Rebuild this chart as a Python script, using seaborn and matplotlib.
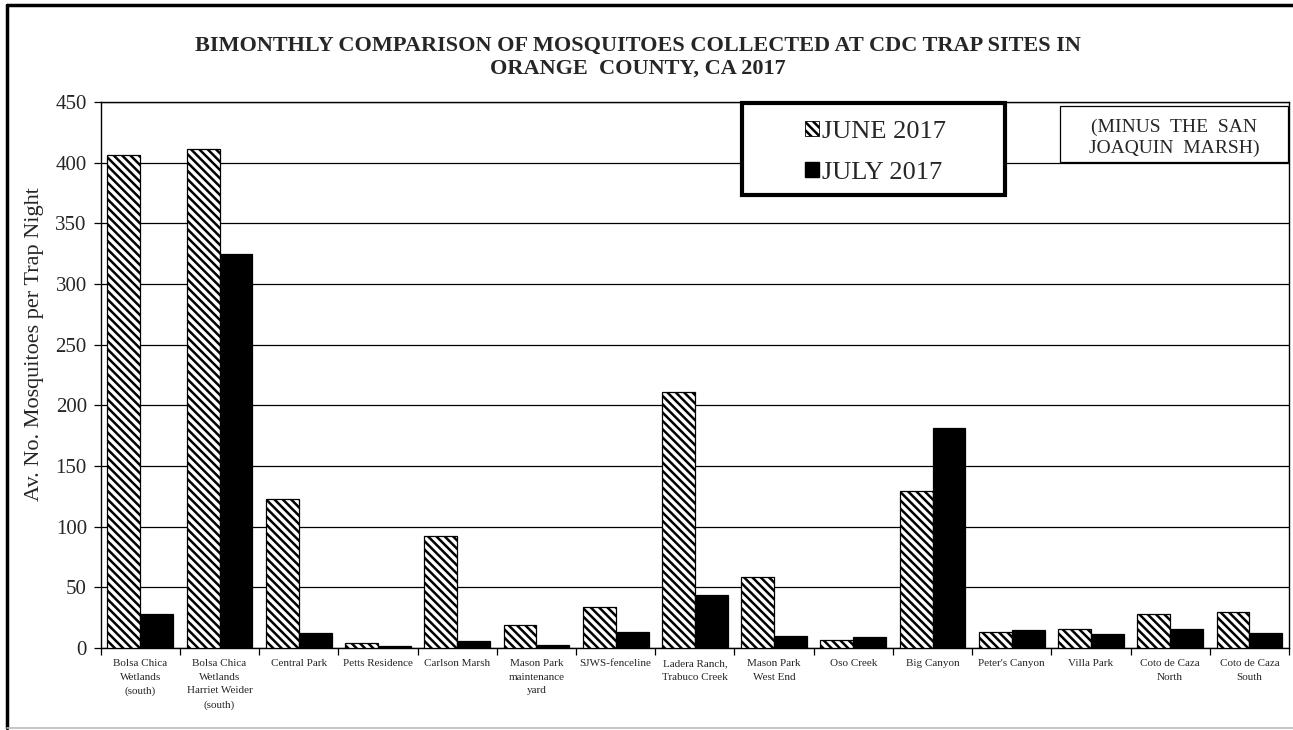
import numpy as np
import pandas as pd
import matplotlib
matplotlib.use("Agg")
import matplotlib.pyplot as plt
import matplotlib.patches as mpatches
from matplotlib.lines import Line2D
import seaborn as sns

# ---------------- data ----------------
sites = [
    "Bolsa Chica\nWetlands\n(south)",
    "Bolsa Chica\nWetlands\nHarriet Weider\n(south)",
    "Central Park",
    "Petts Residence",
    "Carlson Marsh",
    "Mason Park\nmaintenance\nyard",
    "SJWS-fenceline",
    "Ladera Ranch,\nTrabuco Creek",
    "Mason Park\nWest End",
    "Oso Creek",
    "Big Canyon",
    "Peter's Canyon",
    "Villa Park",
    "Coto de Caza\nNorth",
    "Coto de Caza\nSouth",
]
june_2017 = [406, 411, 123, 4.4, 92.5, 19.3, 34, 211, 58.4, 6.3, 129, 13.5, 16, 27.8, 29.8]
july_2017 = [28, 325, 12.7, 1.9, 5.5, 2.5, 13.2, 43.3, 9.9, 9.1, 181, 14.6, 11.3, 15.7, 12.7]
series_labels = ["JUNE 2017", "JULY 2017"]
yticks = [0, 50, 100, 150, 200, 250, 300, 350, 400, 450]

title = "BIMONTHLY COMPARISON OF MOSQUITOES COLLECTED AT CDC TRAP SITES IN\nORANGE  COUNTY, CA 2017"
ylabel = "Av. No. Mosquitoes per Trap Night"
note = "(MINUS  THE  SAN\nJOAQUIN  MARSH)"

df = pd.DataFrame({
    "site": sites * 2,
    "month": [series_labels[0]] * len(sites) + [series_labels[1]] * len(sites),
    "value": june_2017 + july_2017,
})

# ---------------- style ----------------
sns.set_style("white")
plt.rcParams["font.family"] = ["Liberation Serif", "DejaVu Serif"]
plt.rcParams["hatch.linewidth"] = 1.8
plt.rcParams["hatch.color"] = "black"

W, H = 1293, 730
fig = plt.figure(figsize=(W / 100, H / 100), dpi=100)

def fx(px):
    return px / W

def fy(py):
    return 1 - py / H

L, R, T, B = 100.7, 1289, 102, 648
ax = fig.add_axes([fx(L), fy(B), fx(R) - fx(L), fy(T) - fy(B)])

sns.barplot(data=df, x="site", y="value", hue="month",
            palette=["white", "black"], edgecolor="black", linewidth=0.9,
            width=0.83, saturation=1, legend=False, ax=ax, zorder=3)

HATCH = "\\\\\\\\"
for p in ax.containers[0]:
    p.set_hatch(HATCH)

ax.set_ylim(0, 450)
ax.set_xlim(-0.5, len(sites) - 0.5)
ax.set_yticks(yticks)
ax.yaxis.grid(True, color="black", linewidth=0.9, zorder=0)
ax.xaxis.grid(False)
ax.set_axisbelow(True)
for s in ax.spines.values():
    s.set_visible(True)
    s.set_color("black")
    s.set_linewidth(1.0)

ax.set_xlabel("")
ax.set_ylabel("")
ax.set_xticks(np.arange(-0.5, len(sites), 1), minor=True)
ax.tick_params(axis="x", which="major", length=0, pad=8, labelsize=8)
ax.tick_params(axis="x", which="minor", length=5, width=0.9, direction="out", color="black", bottom=True)
ax.tick_params(axis="y", which="major", length=5, width=0.9, direction="out", color="black",
               left=True, labelsize=15, pad=5)
for t in ax.get_xticklabels():
    t.set_linespacing(1.65)

fig.text(fx(35), fy(344), ylabel, rotation=90, ha="center", va="center", fontsize=16)

fig.text(fx(638), fy(57), title, ha="center", va="center", fontsize=16,
         fontweight="bold", linespacing=1.15, multialignment="center")

# legend box
lx0, ly0, lx1, ly1 = 742, 103, 1005, 195
fig.add_artist(mpatches.Rectangle((fx(lx0), fy(ly1)), fx(lx1) - fx(lx0), fy(ly0) - fy(ly1),
                                  transform=fig.transFigure, facecolor="white",
                                  edgecolor="black", linewidth=3, zorder=5))
handles = [mpatches.Patch(facecolor="white", edgecolor="black", hatch=HATCH, linewidth=0.6),
           mpatches.Patch(facecolor="black", edgecolor="black")]
leg = fig.legend(handles, series_labels, loc="center",
                 bbox_to_anchor=(fx((lx0 + lx1) / 2 + 2), fy((ly0 + ly1) / 2 + 3.5)),
                 frameon=False, fontsize=19, handlelength=0.5, handleheight=0.5,
                 handletextpad=0.12, labelspacing=0.7)
leg.set_zorder(6)

# note box
nx0, ny0, nx1, ny1 = 1060, 106, 1288, 162
fig.add_artist(mpatches.Rectangle((fx(nx0), fy(ny1)), fx(nx1) - fx(nx0), fy(ny0) - fy(ny1),
                                  transform=fig.transFigure, facecolor="white",
                                  edgecolor="black", linewidth=0.9, zorder=5))
fig.text(fx((nx0 + nx1) / 2), fy(138), note, ha="center", va="center",
         fontsize=14, linespacing=1.25, zorder=6)

# outer frame
fig.add_artist(Line2D([fx(7), fx(1293)], [fy(5), fy(5)], transform=fig.transFigure,
                      color="black", linewidth=2.5))
fig.add_artist(Line2D([fx(7), fx(7)], [fy(5), fy(728)], transform=fig.transFigure,
                      color="black", linewidth=2.5))
fig.add_artist(Line2D([fx(7), fx(1293)], [fy(728), fy(728)], transform=fig.transFigure,
                      color="#bbbbbb", linewidth=1.2))

fig.savefig("out.png", dpi=100, facecolor="white")
